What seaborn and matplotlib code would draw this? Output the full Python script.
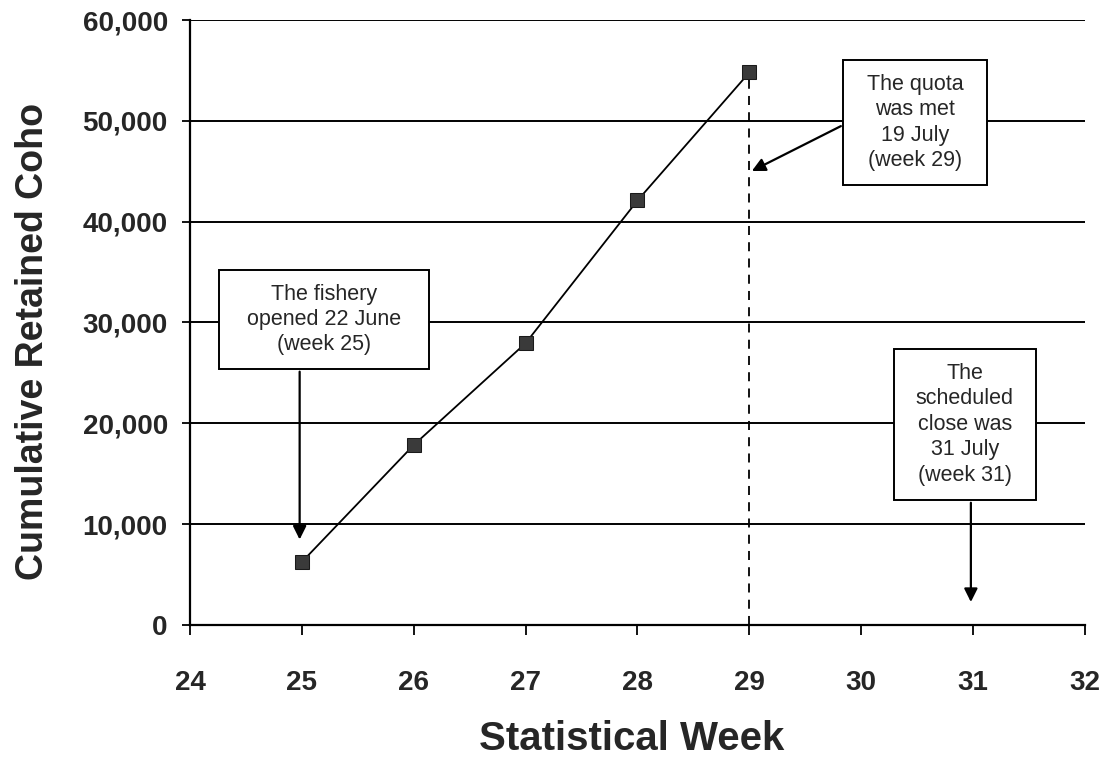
import matplotlib
matplotlib.use("Agg")
import matplotlib.pyplot as plt
import seaborn as sns
import pandas as pd
from matplotlib.ticker import FuncFormatter
from matplotlib.patches import Rectangle

weeks = [25, 26, 27, 28, 29]
cum_coho = [6250, 17850, 27950, 42100, 54800]
x_ticks = [24, 25, 26, 27, 28, 29, 30, 31, 32]
y_ticks = [0, 10000, 20000, 30000, 40000, 50000, 60000]

sns.set_theme(style="white")
plt.rcParams['font.family'] = ['Liberation Sans', 'DejaVu Sans']

df = pd.DataFrame({"week": weeks, "coho": cum_coho})

fig = plt.figure(figsize=(11.06, 7.58), dpi=100)
ax = fig.add_axes([0.1718, 0.1755, 0.8092, 0.7981])

for y in y_ticks[1:]:
    ax.axhline(y, color="black", lw=1.4, zorder=1)

ax.plot([29, 29], [0, cum_coho[-1]], ls=(0, (5, 4)), color="black", lw=1.3, zorder=2)

sns.lineplot(data=df, x="week", y="coho", ax=ax, color="black", lw=1.3,
             marker="s", markersize=9.5, markerfacecolor="#3a3a3a",
             markeredgecolor="#1a1a1a", zorder=3)

ax.set_xlim(24, 32)
ax.set_ylim(0, 60000)
ax.set_xticks(x_ticks)
ax.set_yticks(y_ticks)
ax.yaxis.set_major_formatter(FuncFormatter(lambda v, p: f"{int(v):,}"))
for s in ["top", "right"]:
    ax.spines[s].set_visible(False)
for s in ["left", "bottom"]:
    ax.spines[s].set_color("black")
    ax.spines[s].set_linewidth(1.6)
ax.tick_params(axis="x", direction="out", length=7.5, width=1.3, color="black", pad=25,
               bottom=True, labelsize=20)
ax.tick_params(axis="y", direction="out", length=6, width=1.3, color="black", pad=10,
               left=True, labelsize=20)
for lab in ax.get_xticklabels() + ax.get_yticklabels():
    lab.set_fontweight("bold")

ax.set_xlabel("Statistical Week", fontsize=29, fontweight="bold", va="center")
ax.set_ylabel("Cumulative Retained Coho", fontsize=27, fontweight="bold", va="center")
ax.xaxis.set_label_coords(0.493, -0.188)
ax.yaxis.set_label_coords(-0.175, 0.468)

tfs = 15.5

def note(x0, x1, y0, y1, text):
    ax.add_patch(Rectangle((x0, y0), x1 - x0, y1 - y0, fc="white", ec="black",
                           lw=1.4, zorder=5))
    ax.text((x0 + x1) / 2, (y0 + y1) / 2, text, ha="center", va="center",
            fontsize=tfs, zorder=6, linespacing=1.28)

arrow = dict(arrowstyle="-|>", color="black", lw=1.6, mutation_scale=20)

# fishery opened
ax.annotate("", xy=(24.98, 8200), xytext=(24.98, 25400), arrowprops=arrow, zorder=4)
note(24.26, 26.14, 25390, 35200, "The fishery\nopened 22 June\n(week 25)")

# quota met
ax.annotate("", xy=(29.0, 44900), xytext=(29.84, 49600),
            arrowprops=dict(arrowstyle="-|>", color="black", lw=1.6, mutation_scale=20,
                            facecolor="#8a8a8a"), zorder=4)
note(29.84, 31.12, 43640, 56030, "The quota\nwas met\n19 July\n(week 29)")

# scheduled close
ax.annotate("", xy=(30.98, 2000), xytext=(30.98, 12400), arrowprops=arrow, zorder=4)
note(30.29, 31.56, 12400, 27370, "The\nscheduled\nclose was\n31 July\n(week 31)")

fig.savefig("out.png", dpi=100)
